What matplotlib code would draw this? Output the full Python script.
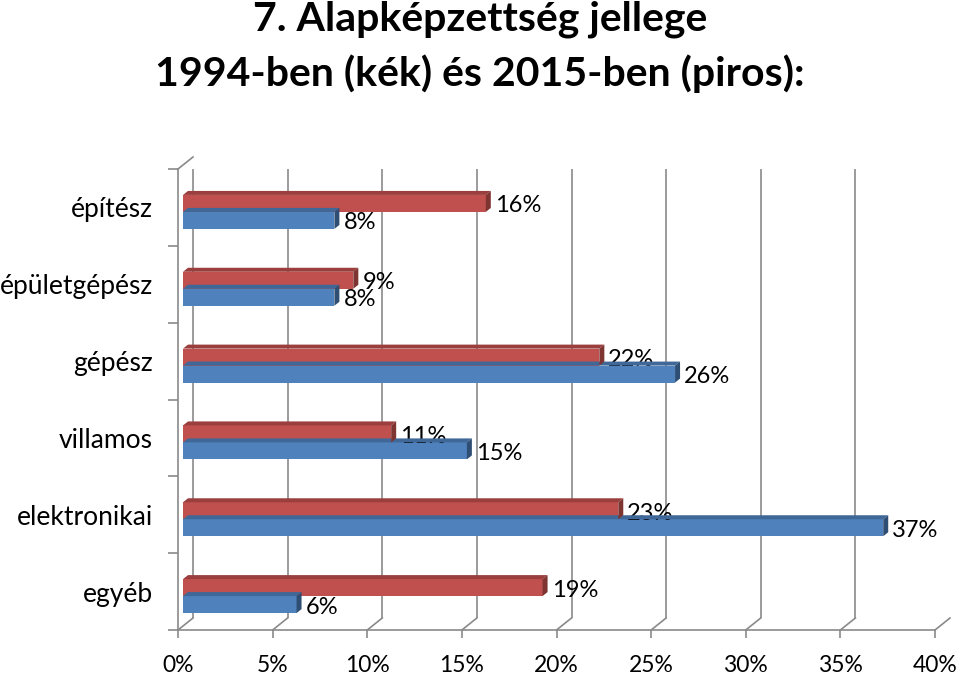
import matplotlib
matplotlib.use("Agg")
import matplotlib.pyplot as plt
from matplotlib.patches import Polygon
from matplotlib.lines import Line2D
from matplotlib.transforms import ScaledTranslation, IdentityTransform
import numpy as np

categories = ["építész", "épületgépész", "gépész", "villamos", "elektronikai", "egyéb"]
values_1994 = [8, 8, 26, 15, 37, 6]      # blue
values_2015 = [16, 9, 22, 11, 23, 19]    # red
xticks = [0, 5, 10, 15, 20, 25, 30, 35, 40]
xtick_labels = ["0%", "5%", "10%", "15%", "20%", "25%", "30%", "35%", "40%"]
title_lines = ["7. Alapképzettség jellege", "1994-ben (kék) és 2015-ben (piros):"]

FONT = "Lato"
W, H = 960, 676
fig = plt.figure(figsize=(W / 100, H / 100), dpi=100)
fig.patch.set_facecolor("white")

# front plane of the 3D box in pixels
x0p, x1p, ytop, ybot = 178, 935, 169, 630
ax = fig.add_axes([x0p / W, 1 - ybot / H, (x1p - x0p) / W, (ybot - ytop) / H])
ax.set_xlim(0, 40)
ax.set_ylim(len(categories) - 0.5, -0.5)
ax.patch.set_alpha(0)

grid_c = "#8a8a8a"
for s in ["top", "right"]:
    ax.spines[s].set_visible(False)
for s in ["left", "bottom"]:
    ax.spines[s].set_color(grid_c)
    ax.spines[s].set_linewidth(1.2)

ax.set_xticks(xticks)
ax.set_xticklabels(xtick_labels, fontsize=16.5, family=FONT)
ax.tick_params(axis="x", length=6, color=grid_c, width=1.2, pad=12)
ax.set_yticks(range(len(categories)))
ax.set_yticklabels(categories, fontsize=19, family=FONT)
ax.tick_params(axis="y", which="major", length=0, pad=18)
ax.set_yticks(np.arange(-0.5, len(categories), 1.0), minor=True)
ax.tick_params(axis="y", which="minor", length=7.5, color=grid_c, width=1.2)

DX, DY = 15, 12  # depth of box in pixels (right, up)
back = ax.transData + ScaledTranslation(DX / 100, DY / 100, fig.dpi_scale_trans)
ax.vlines(xticks, -0.5, len(categories) - 0.5, colors=grid_c, linewidth=1.2,
          transform=back, zorder=0)

def disp(x, y):
    return ax.transData.transform((x, y))

# floor diagonals and top-left diagonal
for xv in xticks:
    p = disp(xv, len(categories) - 0.5)
    fig.add_artist(Line2D([p[0], p[0] + DX], [p[1], p[1] + DY], color=grid_c,
                          linewidth=1.2, transform=IdentityTransform()))
p = disp(0, -0.5)
fig.add_artist(Line2D([p[0], p[0] + DX], [p[1], p[1] + DY], color=grid_c,
                      linewidth=1.2, transform=IdentityTransform()))

# bars
bh = 0.221
red_off, blue_off = -0.052, 0.169
shift = ScaledTranslation(5 / 100, 0, fig.dpi_scale_trans)
bar_t = ax.transData + shift
bdx, bdy = 5, 4
y = np.arange(len(categories))

def faces(val, yc, top_c, side_c, z):
    xl, yt = bar_t.transform((0, yc - bh / 2))
    xr, yb = bar_t.transform((val, yc + bh / 2))
    top = Polygon([[xl, yt], [xr, yt], [xr + bdx, yt + bdy], [xl + bdx, yt + bdy]],
                  closed=True, facecolor=top_c, edgecolor="none",
                  transform=IdentityTransform(), zorder=z)
    side = Polygon([[xr, yt], [xr + bdx, yt + bdy], [xr + bdx, yb + bdy], [xr, yb]],
                   closed=True, facecolor=side_c, edgecolor="none",
                   transform=IdentityTransform(), zorder=z)
    fig.add_artist(top)
    fig.add_artist(side)

blue, blue_top, blue_side = "#4F81BD", "#3F6797", "#2F4E74"
red, red_top, red_side = "#C0504D", "#9A3F3D", "#7E3431"

for i in range(len(categories)):
    faces(values_1994[i], y[i] + blue_off, blue_top, blue_side, 2)
ax.barh(y + blue_off, values_1994, height=bh, color=blue, transform=bar_t, zorder=3)
for i in range(len(categories)):
    faces(values_2015[i], y[i] + red_off, red_top, red_side, 4)
ax.barh(y + red_off, values_2015, height=bh, color=red, transform=bar_t, zorder=5)

lab_t = bar_t + ScaledTranslation(9 / 100, -2.5 / 100, fig.dpi_scale_trans)
for i in range(len(categories)):
    ax.text(values_2015[i], y[i] + red_off, f"{values_2015[i]}%", transform=lab_t,
            fontsize=17, family=FONT, va="center", ha="left", zorder=10)
    ax.text(values_1994[i], y[i] + blue_off, f"{values_1994[i]}%", transform=lab_t,
            fontsize=17, family=FONT, va="center", ha="left", zorder=10)

fig.text(0.5, 1 - 31 / H, title_lines[0], ha="center", va="baseline",
         fontsize=29.5, fontweight="bold", family=FONT)
fig.text(0.5, 1 - 86 / H, title_lines[1], ha="center", va="baseline",
         fontsize=29.5, fontweight="bold", family=FONT)

fig.savefig("out.png", dpi=100, facecolor="white")
